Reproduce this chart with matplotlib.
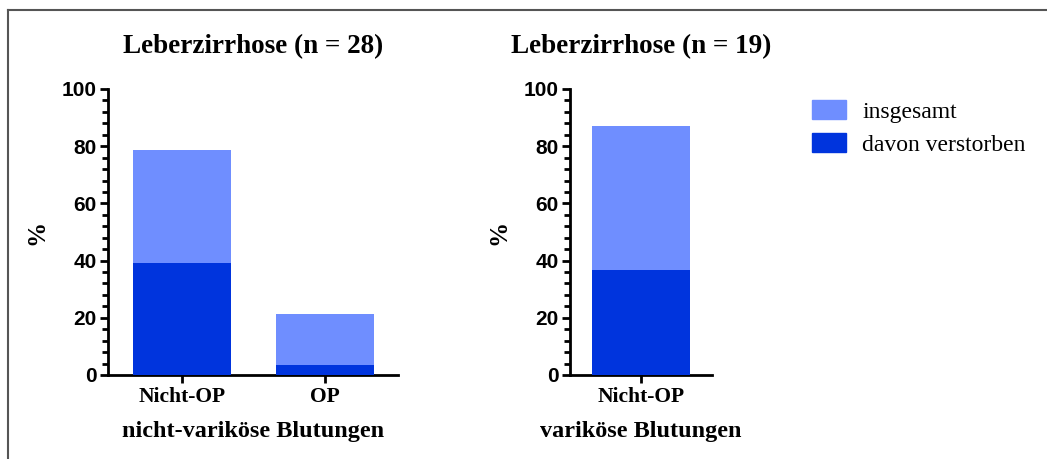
import matplotlib
matplotlib.use("Agg")
import matplotlib.pyplot as plt
from matplotlib.patches import Patch
from matplotlib.ticker import MultipleLocator

# Daten (Prozent)
gruppen_links = ["Nicht-OP", "OP"]
gesamt_links = [78.6, 21.4]
verstorben_links = [39.3, 3.6]

gruppen_rechts = ["Nicht-OP"]
gesamt_rechts = [87.0]
verstorben_rechts = [36.8]

titel = ["Leberzirrhose (n = 28)", "Leberzirrhose (n = 19)"]
xlabels = ["nicht-variköse Blutungen", "variköse Blutungen"]

hell = "#6f8eff"
dunkel = "#0034dd"

serif = "Liberation Serif"
sans = "Liberation Sans"

fig = plt.figure(figsize=(10.47, 4.59), dpi=100)

ax1 = fig.add_axes([108/1047, 1-375/459, 290/1047, 286/459])
ax2 = fig.add_axes([570/1047, 1-375/459, 142/1047, 286/459])


def panel(ax, gruppen, gesamt, verstorben, t, xl, xlim, ylab_x):
    x = list(range(len(gruppen)))
    ax.bar(x, gesamt, width=0.69, color=hell, zorder=2)
    ax.bar(x, verstorben, width=0.69, color=dunkel, zorder=3)
    ax.set_xlim(*xlim)
    ax.set_ylim(0, 100)
    ax.set_xticks(x)
    ax.set_xticklabels(gruppen, fontfamily=serif, fontweight="bold", fontsize=15.5)
    ax.yaxis.set_major_locator(MultipleLocator(20))
    ax.yaxis.set_minor_locator(MultipleLocator(4))
    for lab in ax.get_yticklabels():
        lab.set_fontfamily(sans)
        lab.set_fontweight("bold")
        lab.set_fontsize(15)
    ax.tick_params(axis="y", which="major", length=6, width=2, pad=2)
    ax.tick_params(axis="y", which="minor", length=4, width=2)
    ax.tick_params(axis="x", which="major", length=6, width=2, pad=3)
    for s in ["top", "right"]:
        ax.spines[s].set_visible(False)
    for s in ["left", "bottom"]:
        ax.spines[s].set_linewidth(2)
    ax.set_ylabel("%", fontfamily=serif, fontweight="bold", fontsize=18)
    ax.yaxis.set_label_coords(ylab_x, 0.5)
    ax.set_xlabel(xl, fontfamily=serif, fontweight="bold", fontsize=17.5, labelpad=10)
    ax.set_title(t, fontfamily=serif, fontweight="bold", fontsize=19.5, pad=26)


panel(ax1, gruppen_links, gesamt_links, verstorben_links, titel[0], xlabels[0], (-0.517, 1.51), -0.207)
panel(ax2, gruppen_rechts, gesamt_rechts, verstorben_rechts, titel[1], xlabels[1], (-0.497, 0.497), -0.423)

handles = [Patch(color=hell, label="insgesamt"), Patch(color=dunkel, label="davon verstorben")]
fig.legend(handles=handles, loc="upper left", bbox_to_anchor=(812/1047, 1-100/459), frameon=False,
           prop={"family": serif, "size": 17}, handlelength=1.44, handleheight=0.85,
           labelspacing=0.45, handletextpad=0.68, borderpad=0, borderaxespad=0)

# Rahmen oben/links
fig.add_artist(plt.Line2D([8/1047, 8/1047], [0, 1-10/459], color="#555555", lw=1.5))
fig.add_artist(plt.Line2D([8/1047, 1], [1-10/459, 1-10/459], color="#555555", lw=1.5))

fig.savefig("out.png", dpi=100)
